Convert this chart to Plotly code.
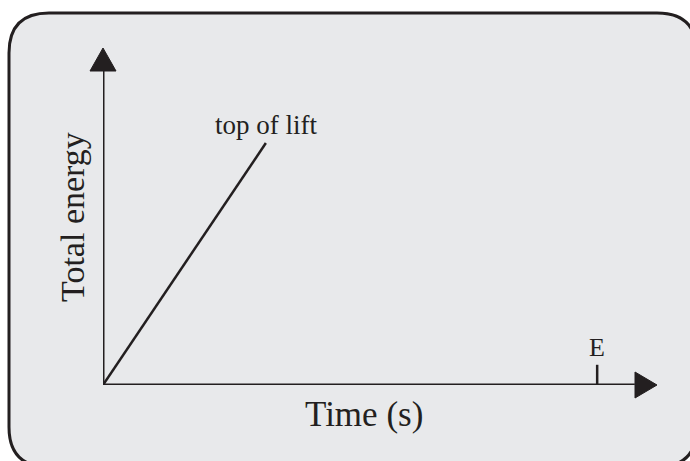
import plotly.graph_objects as go

# values (arbitrary units, axis tip = 10)
time = [0, 2.94]
energy = [0, 7.18]
line_label = "top of lift"
tick_e_time = 8.92
tick_e_label = "E"
x_title = "Time (s)"
y_title = "Total energy"

W, H = 690, 461
ink = "#231f20"
font = "Liberation Serif, Times New Roman, serif"

# plot area in page pixels
px0, px1 = 103, 657
py0, py1 = 385, 48


def fx(p):
    return p / W


def fy(p):
    return 1 - p / H


fig = go.Figure()

fig.add_trace(go.Scatter(
    x=time, y=energy, mode="lines",
    line=dict(color=ink, width=2.5),
    hoverinfo="skip", showlegend=False,
))

# rounded panel
L, T, R, B, r = 9, 13, 697, 467, 40
panel = (
    f"M {fx(L + r)},{fy(T)} L {fx(R - r)},{fy(T)} "
    f"Q {fx(R)},{fy(T)} {fx(R)},{fy(T + r)} L {fx(R)},{fy(B - r)} "
    f"Q {fx(R)},{fy(B)} {fx(R - r)},{fy(B)} L {fx(L + r)},{fy(B)} "
    f"Q {fx(L)},{fy(B)} {fx(L)},{fy(B - r)} L {fx(L)},{fy(T + r)} "
    f"Q {fx(L)},{fy(T)} {fx(L + r)},{fy(T)} Z"
)
shapes = [dict(type="path", xref="paper", yref="paper", path=panel,
               fillcolor="#e8e9eb", line=dict(color=ink, width=3), layer="below")]

# axis lines
shapes.append(dict(type="line", xref="x", yref="y", x0=0, y0=0, x1=9.6, y1=0,
                   line=dict(color=ink, width=3)))
shapes.append(dict(type="line", xref="x", yref="y", x0=0, y0=0, x1=0, y1=9.4,
                   line=dict(color=ink, width=3)))
# arrow heads
shapes.append(dict(type="path", xref="paper", yref="paper",
                   path=f"M {fx(px1)},{fy(py0)} L {fx(px1 - 22)},{fy(py0 - 13)} "
                        f"L {fx(px1 - 22)},{fy(py0 + 13)} Z",
                   fillcolor=ink, line=dict(color=ink, width=1)))
shapes.append(dict(type="path", xref="paper", yref="paper",
                   path=f"M {fx(px0)},{fy(py1)} L {fx(px0 - 13)},{fy(py1 + 23)} "
                        f"L {fx(px0 + 13)},{fy(py1 + 23)} Z",
                   fillcolor=ink, line=dict(color=ink, width=1)))
# E tick
shapes.append(dict(type="line", xref="x", yref="y", x0=tick_e_time, x1=tick_e_time,
                   y0=0, y1=0.6, line=dict(color=ink, width=2.5)))

annotations = [
    dict(x=tick_e_time, y=0.6, xref="x", yref="y", text=tick_e_label, showarrow=False,
         xanchor="center", yanchor="bottom", yshift=1,
         font=dict(size=26, color=ink, family=font)),
    dict(x=time[1], y=energy[1], xref="x", yref="y", text=line_label,
         showarrow=False, xanchor="center", yanchor="bottom", yshift=1,
         font=dict(size=27, color=ink, family=font)),
    dict(x=fx(364), y=fy(414), xref="paper", yref="paper", text=x_title, showarrow=False,
         xanchor="center", yanchor="middle",
         font=dict(size=35, color=ink, family=font)),
    dict(x=fx(72), y=fy(217), xref="paper", yref="paper", text=y_title, showarrow=False,
         xanchor="center", yanchor="middle", textangle=-90,
         font=dict(size=34, color=ink, family=font)),
]

fig.update_layout(
    width=W, height=H,
    margin=dict(l=0, r=0, t=0, b=0),
    paper_bgcolor="white",
    plot_bgcolor="rgba(0,0,0,0)",
    shapes=shapes,
    annotations=annotations,
    xaxis=dict(domain=[fx(px0), fx(px1)], range=[0, 10], visible=False, fixedrange=True),
    yaxis=dict(domain=[fy(py0), fy(py1)], range=[0, 10], visible=False, fixedrange=True),
    showlegend=False,
)

# drop the default body margin so the figure fills the window exactly
fig.write_html("out.html", config={"displayModeBar": False},
               post_script="document.body.style.margin = '0';")
